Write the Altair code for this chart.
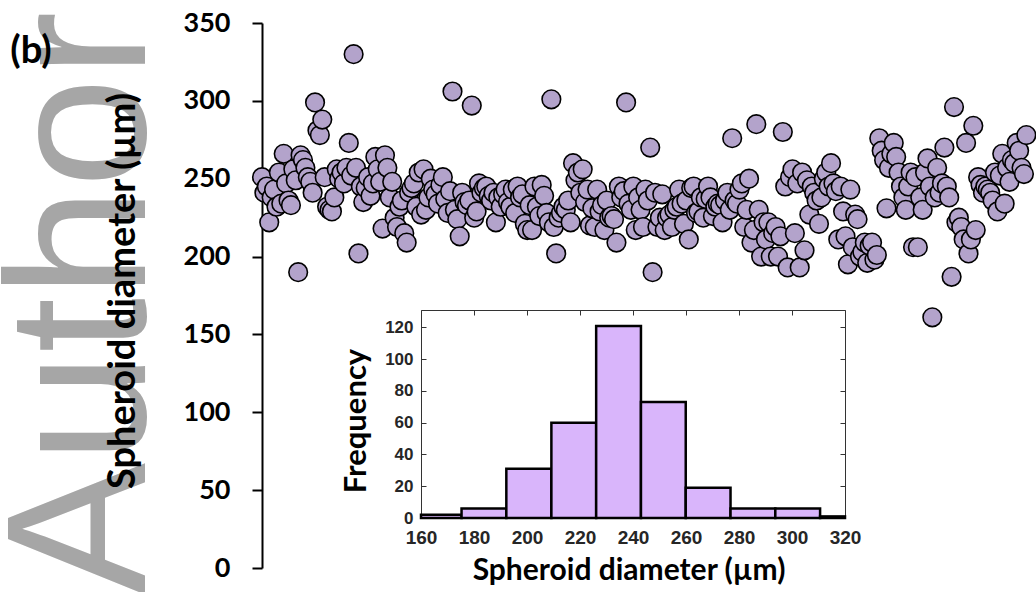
import altair as alt
import pandas as pd

# ---- scatter: spheroid diameter (µm) per sample, read left to right ----
seg_a = [251, 241, 245, 222, 238, 243, 232, 254, 234, 266, 247, 236, 233, 256, 249, 190, 265, 262,
         257, 251, 248, 241, 299, 281, 278, 288, 251, 232, 230, 229, 238, 256, 250, 254, 247, 257,
         273, 252, 330, 257, 202, 245, 235, 244, 251, 239, 247, 264, 256, 248, 218]
seg_b = [265, 257, 238, 248, 225, 219, 232, 236, 215, 209, 241, 244, 247, 232, 254, 227, 256, 230,
         238, 250, 243, 240, 234, 246, 251, 237, 228, 242, 306, 230, 224, 213, 241, 235, 233, 236,
         297, 225, 229, 247, 241, 244, 245, 239, 236, 241, 222, 238, 232, 240, 243, 235]
seg_c = [232, 243, 228, 245, 238, 240, 221, 217, 233, 217, 245, 232, 226, 246, 239, 228, 222, 301,
         219, 202, 225, 228, 232, 230, 236, 222, 260, 249, 254, 241, 256, 235, 243, 220, 231, 219,
         243, 229, 233, 217, 236, 225, 226, 224, 209, 245, 238, 242, 299, 234, 230, 245, 217, 238,
         230, 219, 243, 236, 270, 190]
seg_d = [241, 219, 225, 240, 217, 225, 227, 219, 230, 232, 243, 234, 221, 236, 211, 244, 245, 228,
         229, 238, 225, 237, 245, 238, 226, 232, 234, 233, 222, 236, 241, 230, 276, 236, 234, 243,
         247, 219, 230, 250, 209, 217, 285, 230, 200, 222, 211, 222, 200, 215, 219, 200, 213, 280,
         245, 193, 251]
seg_e = [256, 215, 247, 193, 254, 204, 249, 227, 245, 241, 236, 221, 238, 250, 254, 245, 260, 247,
         242, 211, 245, 229, 213, 195, 243, 206, 227, 224, 200, 203, 209, 196, 207, 209, 198, 201,
         276, 268, 262, 231, 257, 266, 273, 264, 254, 245, 238, 230, 245, 254, 206]
seg_f = [251, 206, 238, 230, 254, 263, 245, 161, 238, 257, 241, 247, 270, 245, 238, 187,
         296, 222, 225, 219, 211, 273, 202, 211, 284, 217, 251, 246, 241, 245, 243, 241, 236, 254,
         229, 252, 266, 234, 257, 248, 262, 260, 273, 268, 257, 253, 278]
diameters = seg_a + seg_b + seg_c + seg_d + seg_e + seg_f
samples = list(range(1, len(diameters) + 1))
main_ticks = [0, 50, 100, 150, 200, 250, 300, 350]

# ---- inset histogram ----
bin_start = [160, 175.3, 192.2, 209.2, 226.1, 243.0, 259.9, 276.8, 293.7, 310.6]
bin_end = [175.3, 192.2, 209.2, 226.1, 243.0, 259.9, 276.8, 293.7, 310.6, 320]
bin_count = [2, 6, 31, 60, 121, 73, 19, 6, 6, 1]
inset_x_ticks = [160, 180, 200, 220, 240, 260, 280, 300, 320]
inset_y_ticks = [0, 20, 40, 60, 80, 100, 120]

TITLE = "Spheroid diameter (µm)"
W, H = 774, 545

pts = pd.DataFrame({"sample": samples, "diameter": diameters})
hist = pd.DataFrame({"start": bin_start, "end": bin_end, "count": bin_count})

scatter = alt.Chart(pts).mark_circle(
    size=346, fill="#b3a3cb", stroke="black", strokeWidth=1.6, opacity=1
).encode(
    x=alt.X("sample:Q", scale=alt.Scale(domain=[1, 322], nice=False, zero=False), axis=None),
    y=alt.Y("diameter:Q", scale=alt.Scale(domain=[0, 350], nice=False, zero=False),
            axis=alt.Axis(values=main_ticks, title=None, labelFont="Lato", labelFontSize=27,
                          labelFontWeight="bold", labelColor="black", tickSize=10, tickWidth=2,
                          tickColor="black", domainColor="black", domainWidth=2,
                          labelPadding=22, grid=False, labelFlush=False)),
)

def label(text, x, y, size, font="Lato", weight="bold", color="black", angle=0,
          align="center", baseline="middle"):
    return alt.Chart(pd.DataFrame({"t": [text]})).mark_text(
        font=font, fontSize=size, fontWeight=weight, color=color, angle=angle,
        align=align, baseline=baseline
    ).encode(x=alt.value(x), y=alt.value(y), text="t:N")

watermark = label("Author", -117, 572, 198, font="Liberation Sans", weight="normal",
                  color="#a6a6a6", angle=270, align="left", baseline="alphabetic")
panel = label("(b)", -231, 29, 38)
ytitle = label(TITLE, -138, 268, 38, angle=270)
inset_xtitle = label(TITLE, 367, 557, 30, baseline="alphabetic")
inset_ytitle = label("Frequency", 95, 398, 31, angle=270)

main = alt.layer(scatter, watermark, panel, ytitle, inset_xtitle, inset_ytitle)

xsc = alt.Scale(domain=[160, 320], range=[159, 583], nice=False, zero=False)
ysc = alt.Scale(domain=[0, 131], range=[495, 287], nice=False, zero=True)
lab = dict(labelFont="Liberation Sans", labelFontWeight="bold", labelColor="#262626",
           domainColor="#333333", tickColor="#333333", grid=False, title=None,
           labelFlush=False)

bars = alt.Chart(hist).mark_rect(fill="#d9b5fb", stroke="black", strokeWidth=2.5).encode(
    x=alt.X("start:Q", scale=xsc,
            axis=alt.Axis(orient="bottom", offset=-50, values=inset_x_ticks, tickSize=0,
                          labelFontSize=19, labelPadding=10, **lab)),
    x2="end:Q",
    y=alt.Y("count:Q", scale=ysc,
            axis=alt.Axis(orient="left", offset=-159, values=inset_y_ticks, tickSize=0,
                          labelFontSize=17, labelPadding=8, **lab)),
    y2=alt.datum(0),
)
frame = alt.Chart(hist).mark_rect(opacity=0).encode(
    x=alt.X("start:Q", scale=xsc,
            axis=alt.Axis(orient="bottom", offset=-258, values=inset_x_ticks, labels=False,
                          tickSize=5, **lab)),
    x2="end:Q",
    y=alt.Y("count:Q", scale=ysc,
            axis=alt.Axis(orient="left", offset=-583, values=inset_y_ticks, labels=False,
                          tickSize=5, **lab)),
    y2=alt.datum(0),
)
left_ticks = alt.Chart(hist).mark_rect(opacity=0).encode(
    x=alt.X("start:Q", scale=xsc, axis=None),
    x2="end:Q",
    y=alt.Y("count:Q", scale=ysc,
            axis=alt.Axis(orient="right", offset=-(W - 159), values=inset_y_ticks, labels=False,
                          tickSize=5, domain=False, **lab)),
    y2=alt.datum(0),
)
inset = alt.layer(bars, frame, left_ticks).resolve_axis(x="independent", y="independent")

chart = alt.layer(main, inset).resolve_scale(x="independent", y="independent").properties(
    width=W, height=H,
    padding={"left": 262, "top": 23, "right": 0, "bottom": 24},
    autosize=alt.AutoSizeParams(type="none"),
    background="white",
).configure_view(stroke=None)

chart.save("out.html", embed_options={"renderer": "svg", "actions": False})
